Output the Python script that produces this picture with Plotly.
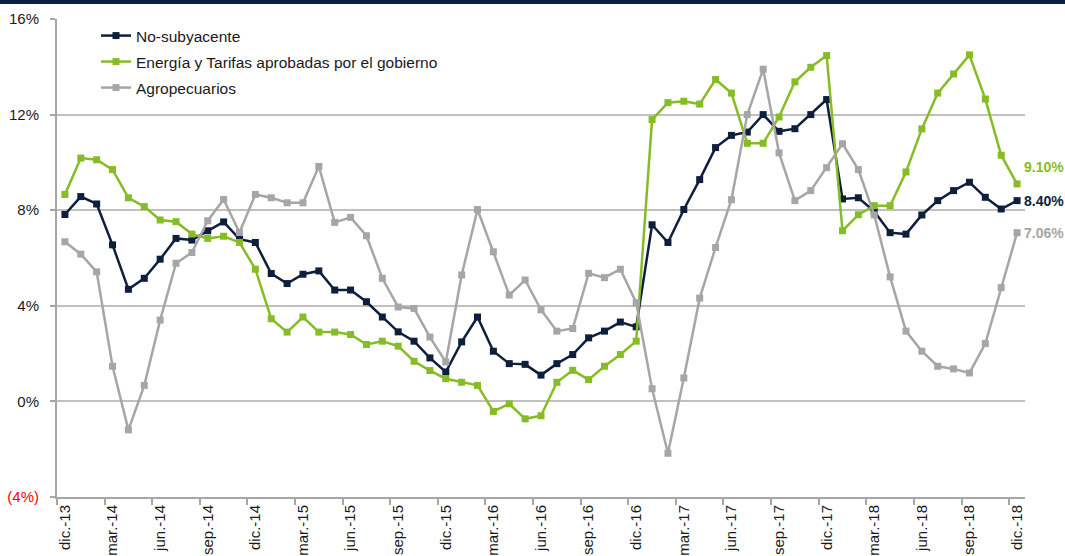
import plotly.graph_objects as go

months = ["ene.", "feb.", "mar.", "abr.", "may.", "jun.", "jul.", "ago.", "sep.", "oct.", "nov.", "dic."]
periods = ["dic.-13"] + [f"{m}-{y}" for y in range(14, 19) for m in months]

no_subyacente = [7.82, 8.57, 8.26, 6.55, 4.69, 5.15, 5.95, 6.82, 6.75, 7.14, 7.51,
                 6.79, 6.65, 5.35, 4.93, 5.32, 5.46, 4.66, 4.66, 4.17, 3.53,
                 2.91, 2.52, 1.82, 1.23, 2.49, 3.53, 2.10, 1.58, 1.55, 1.10,
                 1.58, 1.96, 2.66, 2.94, 3.32, 3.12, 7.39, 6.65, 8.03, 9.28,
                 10.62, 11.13, 11.27, 12.00, 11.30, 11.41, 12.00, 12.63, 8.47, 8.52,
                 7.95, 7.06, 7.00, 7.80, 8.40, 8.82, 9.17, 8.54, 8.05, 8.40]

energia = [8.66, 10.18, 10.11, 9.70, 8.52, 8.15, 7.59, 7.52, 7.00, 6.82, 6.91,
           6.65, 5.53, 3.46, 2.90, 3.53, 2.90, 2.90, 2.80, 2.38, 2.52,
           2.31, 1.68, 1.29, 0.95, 0.80, 0.67, -0.42, -0.10, -0.73, -0.60,
           0.80, 1.30, 0.91, 1.47, 1.96, 2.52, 11.79, 12.50, 12.56, 12.44,
           13.47, 12.90, 10.80, 10.80, 11.90, 13.37, 13.98, 14.47, 7.14, 7.81,
           8.19, 8.19, 9.60, 11.40, 12.90, 13.70, 14.50, 12.65, 10.30, 9.10]

agropecuarios = [6.68, 6.16, 5.42, 1.47, -1.19, 0.67, 3.40, 5.78, 6.23, 7.56, 8.45,
                 7.07, 8.66, 8.52, 8.31, 8.31, 9.83, 7.49, 7.70, 6.93, 5.15,
                 3.95, 3.89, 2.69, 1.65, 5.29, 8.03, 6.26, 4.45, 5.08, 3.83,
                 2.94, 3.05, 5.36, 5.18, 5.53, 4.13, 0.53, -2.17, 0.98, 4.32,
                 6.44, 8.44, 12.00, 13.90, 10.40, 8.40, 8.82, 9.78, 10.78, 9.70,
                 7.80, 5.21, 2.94, 2.10, 1.47, 1.36, 1.19, 2.42, 4.76, 7.06]

y_tickvals = [-4, 0, 4, 8, 12, 16]
y_ticktext = ["<span style='color:#FF0000'>(4%)</span>", "0%", "4%", "8%", "12%", "16%"]

series = [
    ("No-subyacente", no_subyacente, "#0D1F3C", "legend", 0),
    ("Energía y Tarifas aprobadas por el gobierno", energia, "#86BC25", "legend2", 17),
    ("Agropecuarios", agropecuarios, "#A6A6A6", "legend3", 0),
]

x = list(range(len(periods)))
FONT = "Liberation Sans, Arial, sans-serif"

fig = go.Figure()
for name, vals, color, leg, _ in series:
    fig.add_trace(go.Scatter(
        x=x, y=vals, name=name, mode="lines+markers", legend=leg,
        line=dict(color=color, width=2.5),
        marker=dict(symbol="square", size=7, color=color),
        customdata=periods, hovertemplate="%{customdata}: %{y:.2f}%<extra></extra>",
    ))

annotations = []
for name, vals, color, leg, ysh in series:
    annotations.append(dict(
        x=x[-1], y=vals[-1], xref="x", yref="y", text=f"<b>{vals[-1]:.2f}%</b>",
        showarrow=False, xanchor="left", yanchor="middle", xshift=5, yshift=ysh,
        font=dict(family=FONT, size=14, color=color),
    ))

tick_idx = list(range(0, len(periods), 3))
boundaries = [i - 0.5 for i in tick_idx]

L, R, T, B = 57, 40, 19, 59
PW, PH = 1065 - L - R, 556 - T - B

def legend_at(py):
    return dict(x=(96 - L) / PW, xanchor="left", y=(556 - B - py) / PH, yanchor="middle",
                bgcolor="rgba(0,0,0,0)", font=dict(family=FONT, size=15.5, color="#1A1A1A"),
                borderwidth=0)

fig.update_layout(
    width=1065, height=556, autosize=False,
    margin=dict(l=L, r=R, t=T, b=B),
    plot_bgcolor="white", paper_bgcolor="white",
    font=dict(family=FONT, size=14, color="#1A1A1A"),
    showlegend=True,
    legend=legend_at(36), legend2=legend_at(62), legend3=legend_at(88),
    annotations=annotations,
    xaxis=dict(
        range=[-0.5, len(periods) - 0.5], tickmode="array",
        tickvals=tick_idx, ticktext=[periods[i] for i in tick_idx],
        tickangle=-90, ticks="", showgrid=False, zeroline=False, automargin=False,
        showline=True, linecolor="#A6A6A6", linewidth=2,
        tickfont=dict(family=FONT, size=15, color="#1A1A1A"),
        minor=dict(tickmode="array", tickvals=boundaries, ticks="outside",
                   ticklen=6, tickwidth=1.5, tickcolor="#A6A6A6", showgrid=False),
    ),
    yaxis=dict(
        range=[-4, 16], tickmode="array", tickvals=y_tickvals, ticktext=y_ticktext,
        showgrid=True, gridcolor="#C0C0C0", gridwidth=1.5, zeroline=False, automargin=False,
        showline=True, linecolor="#A6A6A6", linewidth=2,
        ticks="outside", ticklen=5, tickwidth=1.5, tickcolor="#A6A6A6",
        ticklabelstandoff=8,
        tickfont=dict(family=FONT, size=15, color="#1A1A1A"),
    ),
    shapes=[dict(type="rect", xref="paper", yref="paper",
                 x0=-L / PW, x1=1 + R / PW, y0=(PH + T - 4) / PH, y1=(PH + T) / PH,
                 fillcolor="#0B1F3F", line=dict(width=0), layer="above")],
)

fig.write_html("out.html")
